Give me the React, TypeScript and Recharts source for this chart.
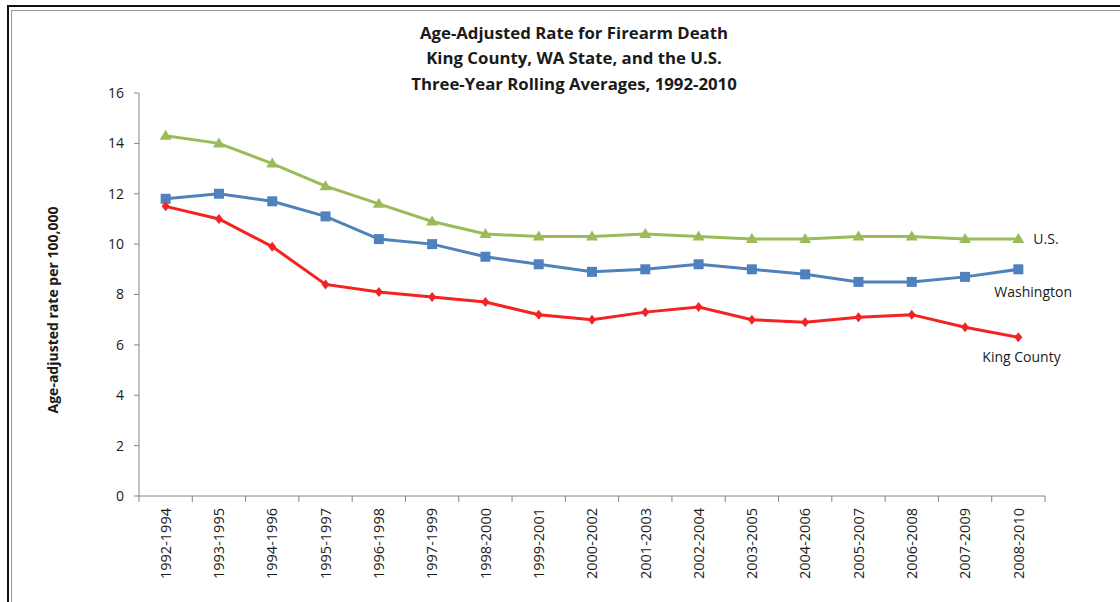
import { LineChart, Line, XAxis, YAxis } from "recharts";

const PERIODS = [
  "1992-1994", "1993-1995", "1994-1996", "1995-1997", "1996-1998", "1997-1999",
  "1998-2000", "1999-2001", "2000-2002", "2001-2003", "2002-2004", "2003-2005",
  "2004-2006", "2005-2007", "2006-2008", "2007-2009", "2008-2010",
];

const US = [14.3, 14.0, 13.2, 12.3, 11.6, 10.9, 10.4, 10.3, 10.3, 10.4, 10.3, 10.2, 10.2, 10.3, 10.3, 10.2, 10.2];
const WASHINGTON = [11.8, 12.0, 11.7, 11.1, 10.2, 10.0, 9.5, 9.2, 8.9, 9.0, 9.2, 9.0, 8.8, 8.5, 8.5, 8.7, 9.0];
const KING_COUNTY = [11.5, 11.0, 9.9, 8.4, 8.1, 7.9, 7.7, 7.2, 7.0, 7.3, 7.5, 7.0, 6.9, 7.1, 7.2, 6.7, 6.3];

const Y_TICKS = [0, 2, 4, 6, 8, 10, 12, 14, 16];

const TITLE = [
  "Age-Adjusted Rate for Firearm Death",
  "King County, WA State, and the U.S.",
  "Three-Year Rolling Averages, 1992-2010",
];

const data = PERIODS.map((p, i) => ({
  period: p,
  us: US[i],
  wa: WASHINGTON[i],
  kc: KING_COUNTY[i],
}));

const FONT = "'Open Sans', Lato, sans-serif";
const AXIS = "#868686";
const INK = "#1a1a1a";
const GREEN = "#9bbb59";
const BLUE = "#4f81bd";
const RED = "#f52222";

const W = 1120;
const H = 602;
const M = { top: 93, right: 75, bottom: 26, left: 99 };
const Y_AXIS_W = 40;
const X_AXIS_H = 80;
const PLOT_W = W - M.left - Y_AXIS_W - M.right;
const BAND = PLOT_W / PERIODS.length;

function PeriodTick(props: any) {
  const { x, y, payload, index } = props;
  const last = index === PERIODS.length - 1;
  return (
    <g>
      <line x1={x - BAND / 2} x2={x - BAND / 2} y1={y} y2={y + 6} stroke={AXIS} />
      {last && <line x1={x + BAND / 2} x2={x + BAND / 2} y1={y} y2={y + 6} stroke={AXIS} />}
      <g transform={`translate(${x},${y})`}>
        <text
          transform="rotate(-90)"
          x={-12}
          y={0}
          dy="0.36em"
          textAnchor="end"
          fontSize={14.5}
          fontFamily={FONT}
          fill={INK}
        >
          {payload.value}
        </text>
      </g>
    </g>
  );
}

function Triangle(props: any) {
  const { cx, cy, index } = props;
  return (
    <polygon
      key={`t${index}`}
      points={`${cx},${cy - 6} ${cx + 6},${cy + 4} ${cx - 6},${cy + 4}`}
      fill={GREEN}
    />
  );
}

function Square(props: any) {
  const { cx, cy, index } = props;
  return <rect key={`s${index}`} x={cx - 5} y={cy - 5} width={10} height={10} fill={BLUE} />;
}

function Diamond(props: any) {
  const { cx, cy, index } = props;
  return (
    <polygon
      key={`d${index}`}
      points={`${cx},${cy - 5} ${cx + 4},${cy} ${cx},${cy + 5} ${cx - 4},${cy}`}
      fill={RED}
    />
  );
}

// name tag beside the final point of each series
function endLabel(text: string, dx: number, dy: number) {
  return (props: any) => {
    const { x, y, index } = props;
    if (index !== PERIODS.length - 1) return null;
    return (
      <text
        key={text}
        x={x + dx}
        y={y + dy}
        dy="0.36em"
        fontSize={14}
        fontFamily={FONT}
        fill={INK}
      >
        {text}
      </text>
    );
  };
}

export default function App() {
  return (
    <div
      style={{
        position: "absolute",
        left: 0,
        top: 0,
        width: W,
        height: H,
        overflow: "hidden",
        background: "#fff",
      }}
    >
      <div
        style={{
          position: "absolute",
          left: 7,
          top: 5,
          width: W + 20,
          height: H + 20,
          borderTop: "2.5px solid #111",
          borderLeft: "2.5px solid #111",
        }}
      />
      <div
        style={{
          position: "absolute",
          left: 11,
          top: 10,
          width: W + 20,
          height: H + 20,
          borderTop: "1px solid #999",
          borderLeft: "1px solid #999",
        }}
      />
      <div
        style={{
          position: "absolute",
          left: 0,
          top: 19.5,
          width: 1148,
          textAlign: "center",
          fontFamily: FONT,
          fontWeight: 700,
          fontSize: 16.8,
          lineHeight: "25.5px",
          color: INK,
        }}
      >
        {TITLE.map((t) => (
          <div key={t}>{t}</div>
        ))}
      </div>
      <div
        style={{
          position: "absolute",
          left: 52,
          top: 310,
          transform: "translate(-50%, -50%) rotate(-90deg)",
          whiteSpace: "nowrap",
          fontFamily: FONT,
          fontWeight: 700,
          fontSize: 14,
          color: INK,
        }}
      >
        Age-adjusted rate per 100,000
      </div>
      <div style={{ position: "absolute", left: 0, top: 0 }}>
        <LineChart width={W} height={H} data={data} margin={M}>
          <XAxis
            dataKey="period"
            scale="band"
            height={X_AXIS_H}
            interval={0}
            tickLine={false}
            tickSize={0}
            tickMargin={0}
            stroke={AXIS}
            tick={<PeriodTick />}
          />
          <YAxis
            domain={[0, 16]}
            ticks={Y_TICKS}
            width={Y_AXIS_W}
            stroke={AXIS}
            tickSize={5}
            tickMargin={10}
            tick={{ fontSize: 14, fontFamily: FONT, fill: INK }}
          />
          <Line
            dataKey="us"
            stroke={GREEN}
            strokeWidth={3}
            dot={<Triangle />}
            label={endLabel("U.S.", 15, 0)}
            isAnimationActive={false}
          />
          <Line
            dataKey="wa"
            stroke={BLUE}
            strokeWidth={3}
            dot={<Square />}
            label={endLabel("Washington", -24, 23)}
            isAnimationActive={false}
          />
          <Line
            dataKey="kc"
            stroke={RED}
            strokeWidth={3}
            dot={<Diamond />}
            label={endLabel("King County", -36, 20)}
            isAnimationActive={false}
          />
        </LineChart>
      </div>
    </div>
  );
}
